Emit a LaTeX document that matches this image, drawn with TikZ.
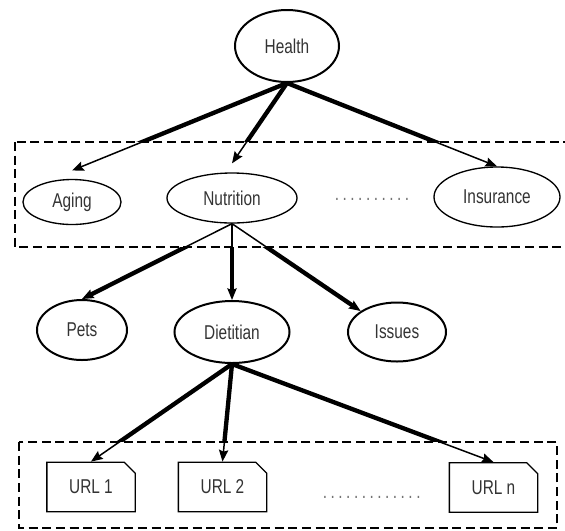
\documentclass[tikz,border=0pt]{standalone}
\usepackage{fontspec}
\setmainfont[FakeStretch=0.77]{Liberation Sans}
\usetikzlibrary{arrows.meta,shapes.geometric,shapes.misc,backgrounds}

\newcommand{\dotrun}[1]{\foreach \k in {1,...,#1}{.\hspace{2.1pt}}\hspace{-2.1pt}}

\begin{document}
\begin{tikzpicture}[x=0.6pt, y=-0.6pt,
                    every node/.style={text=black!80, font=\fontsize{12}{14}\selectfont},
                    topic/.style={ellipse, draw, line width=1.2pt, inner sep=0pt},
                    subtopic/.style={topic, line width=0.8pt},
                    urlbox/.style={chamfered rectangle, chamfered rectangle corners=north east, chamfered rectangle xsep=3pt, draw, line width=0.8pt, minimum width=53pt, minimum height=29.7pt, inner sep=0pt},
                    link/.style={-{Stealth[length=7pt,width=5.6pt,inset=1pt]}, line width=0.9pt},
                    heavy/.style={line width=2.6pt, shorten >=6pt},
                    groupbox/.style={dash pattern=on 5.4pt off 2.8pt, line width=1.5pt, fill=white},
                ]
                \useasboundingbox (0,0) rectangle (565,530);

                % topic tree
                \node[topic, minimum width=62.4pt, minimum height=43.2pt] (health) at (287,46) {Health};
                \node[subtopic, minimum width=58.8pt, minimum height=27pt] (aging) at (72,202) {Aging};
                \node[subtopic, minimum width=78pt, minimum height=30pt] (nutrition) at (232,198) {Nutrition};
                \node[subtopic, minimum width=75.6pt, minimum height=36pt] (insurance) at (497,197) {Insurance};
                \node[anchor=base west, text=black!55] (topdots) at (329,200) {\dotrun{10}};

                \node[topic, minimum width=54pt, minimum height=36pt] (pets) at (82,330) {Pets};
                \node[topic, minimum width=69pt, minimum height=37.2pt] (dietitian) at (232,332) {Dietitian};
                \node[topic, minimum width=58.8pt, minimum height=35.4pt] (issues) at (397,332) {Issues};

                % pages
                \node[urlbox] (url1) at (91,487) {URL 1};
                \node[urlbox] (url2) at (222.5,487) {URL 2};
                \node[urlbox] (urln) at (493.5,487.5) {URL n};
                \node[anchor=base west, text=black!55] (pagedots) at (317,498) {\dotrun{13}};

                \coordinate (agingtip) at ([yshift=5pt]aging.north);
                \coordinate (nutritiontip) at ([yshift=5.4pt]nutrition.north);

                \begin{scope}[on background layer]
                    \foreach \from/\to in {health.south/agingtip, health.south/nutritiontip, health.south/insurance.north,
                                           nutrition.south/pets.north, nutrition.south/dietitian.north, nutrition.south/issues.150,
                                           dietitian.south/url1.north, dietitian.south/url2.north, dietitian.south/urln.north}
                        \draw[heavy] (\from) -- (\to);
                    \draw[groupbox] (15,142) rectangle (585,247);
                    \draw[groupbox] (19,442) rectangle (557,528);
                \end{scope}

                \foreach \from/\to in {health.south/agingtip, health.south/nutritiontip, health.south/insurance.north,
                                       nutrition.south/pets.north, nutrition.south/dietitian.north, nutrition.south/issues.150,
                                       dietitian.south/url1.north, dietitian.south/url2.north, dietitian.south/urln.north}
                    \draw[link] (\from) -- (\to);
            \end{tikzpicture}
\end{document}
